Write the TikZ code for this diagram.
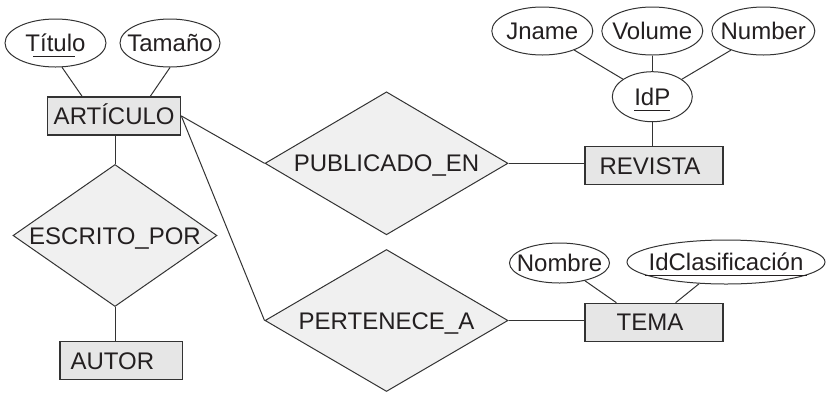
\documentclass[tikz,border=0pt]{standalone}
\usepackage{fontspec}
\setmainfont{Liberation Sans}
\usetikzlibrary{shapes.geometric,calc}
\definecolor{boxfill}{HTML}{E6E6E6}
\definecolor{dmdfill}{HTML}{F0F0F0}
\definecolor{ink}{HTML}{333333}
\definecolor{txt}{HTML}{231F20}
\newcommand{\ulx}[1]{\setbox0=\hbox{#1}\rlap{\rule[-5.5pt]{\wd0}{1.2pt}}\box0}
\begin{document}
\begin{tikzpicture}[x=1pt,y=-1pt,
  font=\fontsize{24}{28}\selectfont, text=txt,
  every node/.style={text height=17pt, text depth=0pt},
  entity/.style={draw=ink, line width=1.2pt, fill=boxfill, rectangle, minimum height=38pt, inner sep=0pt},
  attr/.style={draw=ink, line width=1pt, ellipse, inner sep=0pt},
  rel/.style={draw=ink, line width=1pt, diamond, fill=dmdfill, inner sep=0pt},
  link/.style={draw=ink, line width=1pt}]
\useasboundingbox (0,0) rectangle (826,392);

% entities
\node[entity, minimum width=133pt] (art) at (114.2,115.9) {ARTÍCULO};
\node[entity, minimum width=138pt] (rev) at (654,165.8) {REVISTA\hspace*{8pt}};
\node[entity, minimum width=138pt] (tema) at (654,322.3) {TEMA\hspace*{8pt}};
\node[entity, minimum width=122.7pt] (autor) at (121.3,360.8) {AUTOR\hspace*{18pt}};

% attributes
\node[attr, minimum width=101pt, minimum height=48pt] (tit) at (55.5,43) {\makebox[0pt]{T\kern-7pt\ulx{\kern7pt ítul\kern3pt}\kern-3pt o}};
\node[attr, minimum width=100pt, minimum height=48pt] (tam) at (170,43) {\makebox[0pt]{Tamaño}};
\node[attr, minimum width=101pt, minimum height=48pt] (jn) at (542.3,31) {\makebox[0pt]{Jname}};
\node[attr, minimum width=101pt, minimum height=48pt] (vol) at (652.3,31) {\makebox[0pt]{Volume}};
\node[attr, minimum width=103pt, minimum height=48pt] (num) at (763.3,31) {\makebox[0pt]{Number}};
\node[attr, minimum width=80pt, minimum height=50pt] (idp) at (652.3,96.7) {\makebox[0pt]{\ulx{IdP}}};
\node[attr, minimum width=100pt, minimum height=40pt] (nom) at (559.5,263) {\makebox[0pt]{Nombre}};
\node[attr, minimum width=198pt, minimum height=44pt] (idc) at (726,262) {\makebox[0pt]{\kern-4pt\ulx{\kern4pt IdClasificación\kern4pt}\kern-4pt}};

% relationships
\node[rel, shape aspect=1.44, minimum width=204pt, minimum height=142pt] (esc) at (115,235.5) {ESCRITO\_POR};
\node[rel, shape aspect=1.7, minimum width=243pt, minimum height=143pt] (pub) at (386.5,163.3) {PUBLICADO\_EN};
\node[rel, shape aspect=1.7, minimum width=243pt, minimum height=142pt] (per) at (386.5,320.5) {PERTENECE\_A};

% connectors
\draw[link] (tit.-75) -- ($(art.north west)+(35,0)$);
\draw[link] (tam.south) -- ($(art.north east)+(-31,0)$);
\draw[link] (jn) -- (idp);
\draw[link] (vol) -- (idp);
\draw[link] (num) -- (idp);
\draw[link] (idp.south) -- (idp.south |- rev.north);
\draw[link] (art.east) -- (pub.west);
\draw[link] (art.east) -- (per.west);
\draw[link] (pub.east) -- (pub.east -| rev.west);
\draw[link] (per.east) -- (per.east -| tema.west);
\draw[link] (nom) -- ($(tema.north west)+(32,0)$);
\draw[link] (idc) -- ($(tema.north east)+(-48,0)$);
\draw[link] (esc.north) -- (esc.north |- art.south);
\draw[link] (esc.south) -- (esc.south |- autor.north);
\end{tikzpicture}
\end{document}
